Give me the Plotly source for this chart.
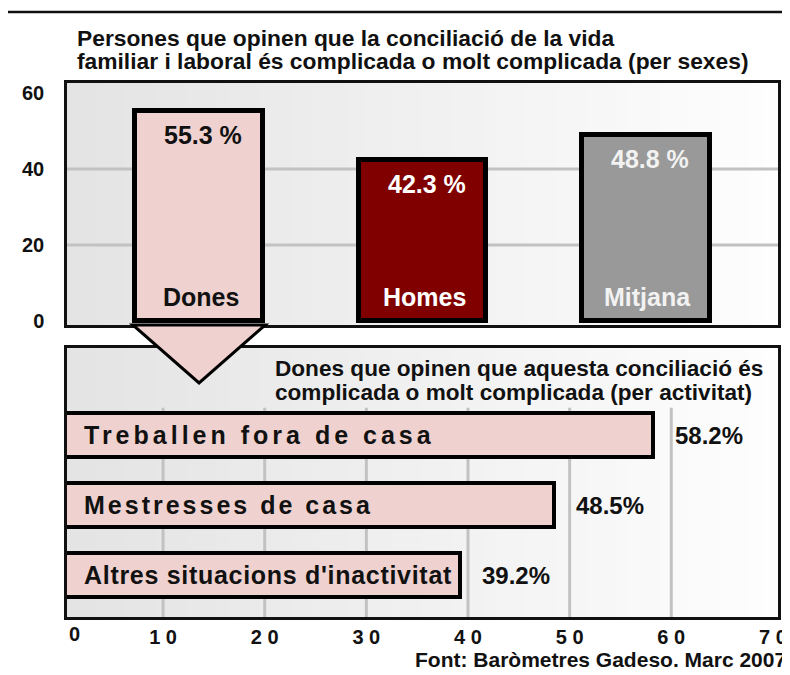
import plotly.graph_objects as go

W, H = 790, 675

# ---------------- data ----------------
title_lines = ["Persones que opinen que la conciliació de la vida",
               "familiar i laboral és complicada o molt complicada (per sexes)"]
top_categories = ["Dones", "Homes", "Mitjana"]
top_values = [55.3, 42.3, 48.8]
top_value_labels = ["55.3 %", "42.3 %", "48.8 %"]
top_ticks = [0, 20, 40, 60]
top_tick_labels = ["0", "20", "40", "60"]

sub_lines = ["Dones que opinen que aquesta conciliació és",
             "complicada o molt complicada (per activitat)"]
bottom_categories = ["Treballen fora de casa", "Mestresses de casa",
                     "Altres situacions d'inactivitat"]
bottom_values = [58.2, 48.5, 39.2]
bottom_value_labels = ["58.2%", "48.5%", "39.2%"]
bottom_ticks = [0, 10, 20, 30, 40, 50, 60, 70]
bottom_tick_labels = ["0", "1 0", "2 0", "3 0", "4 0", "5 0", "6 0", "7 0"]
source_text = "Font: Baròmetres Gadeso. Març 2007"

# ---------------- style ----------------
FONT = "Liberation Sans, Arial, sans-serif"
PINK = "#efd1cf"
top_colors = [PINK, "#800000", "#999999"]
top_text_colors = ["#111111", "#ffffff", "#f2f2f2"]
label_spacing = [4, 3, 0.7]  # letter spacing (px) for the bottom labels


def px(x):
    return x / W


def py(y):
    return 1 - y / H


# plot-area geometry (pixels)
L, R = 67, 778
T1, B1 = 83, 325
T2, B2 = 348, 617
x1_range = [-0.591, 2.591]
y1_range = [-1.05, 62.6]
x2_range = [0.55, 70.5]
y2_range = [-0.6, 3.243]
top_bar_width = 0.57
bot_bar_width = 0.62

fig = go.Figure()

fig.add_trace(go.Bar(
    x=top_categories, y=top_values, width=top_bar_width,
    marker=dict(color=top_colors, line=dict(color="#000000", width=5)),
    xaxis="x", yaxis="y", hoverinfo="skip", showlegend=False))

fig.add_trace(go.Bar(
    x=bottom_values, y=bottom_categories, orientation="h", width=bot_bar_width,
    marker=dict(color=PINK, line=dict(color="#000000", width=4)),
    xaxis="x2", yaxis="y2", hoverinfo="skip", showlegend=False))

shapes = []
# background gradients
N = 48
for ref_x, ref_y in [("x domain", "y domain"), ("x2 domain", "y2 domain")]:
    for i in range(N):
        t = i / (N - 1)
        c = int(228 + (254 - 228) * t)
        shapes.append(dict(type="rect", xref=ref_x, yref=ref_y,
                           x0=i / N, x1=(i + 1) / N + 0.002, y0=0, y1=1,
                           fillcolor=f"rgb({c},{c},{c})", line=dict(width=0),
                           layer="below"))
# top gridlines
for v in top_ticks:
    if top_ticks[0] < v < top_ticks[-1]:
        shapes.append(dict(type="line", xref="x domain", yref="y", x0=0, x1=1,
                           y0=v, y1=v, line=dict(color="#c2c2c2", width=3),
                           layer="below"))
# bottom gridlines
for v in bottom_ticks:
    if bottom_ticks[0] < v < bottom_ticks[-1]:
        shapes.append(dict(type="line", xref="x2", yref="y2", x0=v, x1=v,
                           y0=y2_range[0], y1=2.39,
                           line=dict(color="#c2c2c2", width=3), layer="below"))

# arrow below the "Dones" bar (computed from the axis scale)
ppu = (R - L) / (x1_range[1] - x1_range[0])
cx = L + (0 - x1_range[0]) * ppu
half = (top_bar_width * ppu + 5) / 2
tri = [(cx - half, B1), (cx + half, B1), (cx, 383)]
path = "M {} {} L {} {} L {} {} Z".format(
    px(tri[0][0]), py(tri[0][1]), px(tri[1][0]), py(tri[1][1]),
    px(tri[2][0]), py(tri[2][1]))
shapes.append(dict(type="path", xref="paper", yref="paper", path=path,
                   fillcolor=PINK, line=dict(color="#000000", width=3),
                   layer="above"))
# outer frame
shapes.append(dict(type="rect", xref="paper", yref="paper",
                   x0=px(5), x1=px(805), y0=py(12), y1=py(700),
                   line=dict(color="#111111", width=2.5), fillcolor="rgba(0,0,0,0)"))

ann = []
# titles
for text, y in zip(title_lines, [38, 61]):
    ann.append(dict(text="<b>" + text + "</b>", x=px(75), y=py(y), xref="paper", yref="paper",
                    xanchor="left", yanchor="middle", showarrow=False,
                    font=dict(family=FONT, size=22.8, color="#111111")))
for text, y in zip(sub_lines, [368, 392]):
    ann.append(dict(text="<b>" + text + "</b>", x=px(273), y=py(y), xref="paper", yref="paper",
                    xanchor="left", yanchor="middle", showarrow=False,
                    font=dict(family=FONT, size=22.6, color="#111111")))
# top bar labels
for cat, v, lab, col in zip(top_categories, top_values, top_value_labels, top_text_colors):
    ann.append(dict(text="<b>" + lab + "</b>", x=cat, y=v, xref="x", yref="y",
                    xshift=4, yshift=-24, showarrow=False, yanchor="middle",
                    font=dict(family=FONT, size=25, color=col)))
    ann.append(dict(text="<b>" + cat + "</b>", x=cat, y=0, xref="x", yref="y",
                    xshift=2, yshift=24, showarrow=False, yanchor="middle",
                    font=dict(family=FONT, size=25, color=col)))
# bottom bar labels
for cat, v, lab, sp in zip(bottom_categories, bottom_values, bottom_value_labels, label_spacing):
    txt = '<span style="letter-spacing:%spx"><b>%s</b></span>' % (sp, cat)
    ann.append(dict(text=txt, x=0, y=cat, xref="x2 domain", yref="y2",
                    xanchor="left", xshift=15, showarrow=False, yanchor="middle",
                    font=dict(family=FONT, size=25, color="#111111")))
    ann.append(dict(text="<b>" + lab + "</b>", x=v, y=cat, xref="x2", yref="y2",
                    xanchor="left", xshift=20, showarrow=False, yanchor="middle",
                    font=dict(family=FONT, size=24, color="#111111")))
# tick labels lying below the visible range start
for v, lab in zip(bottom_ticks, bottom_tick_labels):
    if v < x2_range[0]:
        ann.append(dict(text="<b>" + lab + "</b>", x=0, y=py(634),
                        xref="x2 domain", yref="paper", xanchor="left",
                        showarrow=False, yanchor="middle",
                        font=dict(family=FONT, size=20, color="#111111")))
# source
ann.append(dict(text="<b>" + source_text + "</b>", x=px(788), y=py(659),
                xref="paper", yref="paper", xanchor="right", yanchor="middle",
                showarrow=False, font=dict(family=FONT, size=21, color="#111111")))

axis_line = dict(showline=True, linecolor="#111111", linewidth=2.5, mirror=True,
                 zeroline=False, showgrid=False, automargin=False, fixedrange=True)

fig.update_layout(
    autosize=True, margin=dict(l=0, r=0, t=0, b=0, pad=0),
    paper_bgcolor="white", plot_bgcolor="rgba(0,0,0,0)",
    font=dict(family=FONT, color="#111111"),
    bargap=0, showlegend=False,
    xaxis=dict(domain=[px(L), px(R)], range=x1_range, showticklabels=False,
               ticks="", anchor="y", **axis_line),
    yaxis=dict(domain=[py(B1), py(T1)], range=y1_range, tickvals=top_ticks,
               ticktext=["<b>%s</b>" % t for t in top_tick_labels],
               ticks="", ticklabelstandoff=16, anchor="x",
               tickfont=dict(family=FONT, size=20, color="#111111"), **axis_line),
    xaxis2=dict(domain=[px(L), px(R)], range=x2_range, tickvals=bottom_ticks,
                ticktext=["<b>%s</b>" % t for t in bottom_tick_labels],
                ticks="", ticklabelstandoff=0, anchor="y2",
                tickfont=dict(family=FONT, size=20, color="#111111"), **axis_line),
    yaxis2=dict(domain=[py(B2), py(T2)], range=y2_range, type="category",
                categoryorder="array", categoryarray=bottom_categories[::-1],
                showticklabels=False, ticks="", anchor="x2", **axis_line),
    shapes=shapes, annotations=ann,
)

# the figure fills a 790x675 box placed at the page's top-left corner
fig.write_html("out.html", config={"displayModeBar": False},
               default_width="%dpx" % W,
               default_height="%dpx; margin:-8px" % H)
